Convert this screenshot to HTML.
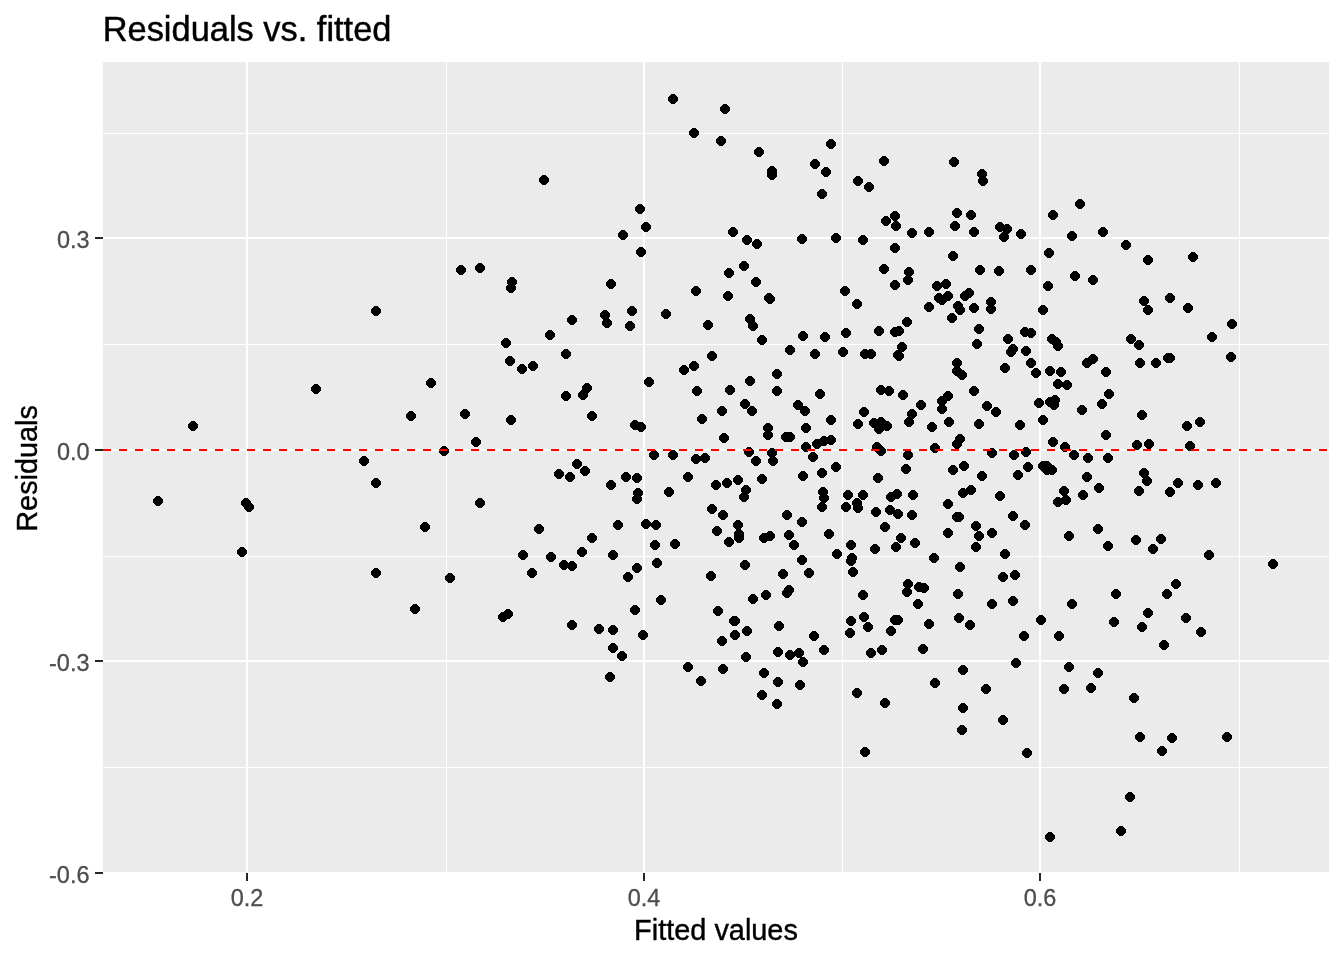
<!DOCTYPE html>
<html lang="en"><head><meta charset="utf-8"><title>Residuals vs. fitted</title>
<style>html,body{margin:0;padding:0;background:#fff;}body{width:1344px;height:960px;overflow:hidden;}svg{display:block;}text{font-family:"Liberation Sans",sans-serif;}</style></head><body>
<svg width="1344" height="960" viewBox="0 0 1344 960">
<rect x="0" y="0" width="1344" height="960" fill="#ffffff"/>
<rect x="103" y="62" width="1226" height="810" fill="#EBEBEB"/>
<g stroke="#ffffff" stroke-width="1" shape-rendering="crispEdges">
<line x1="446.5" x2="446.5" y1="62" y2="872"/>
<line x1="842.5" x2="842.5" y1="62" y2="872"/>
<line x1="1239.5" x2="1239.5" y1="62" y2="872"/>
<line x1="103" x2="1329" y1="133.5" y2="133.5"/>
<line x1="103" x2="1329" y1="344.5" y2="344.5"/>
<line x1="103" x2="1329" y1="556.5" y2="556.5"/>
<line x1="103" x2="1329" y1="767.5" y2="767.5"/>
</g>
<g stroke="#ffffff" stroke-width="2" shape-rendering="crispEdges">
<line x1="247" x2="247" y1="62" y2="872"/>
<line x1="644" x2="644" y1="62" y2="872"/>
<line x1="1040" x2="1040" y1="62" y2="872"/>
<line x1="103" x2="1329" y1="238" y2="238"/>
<line x1="103" x2="1329" y1="450" y2="450"/>
<line x1="103" x2="1329" y1="661" y2="661"/>
</g>
<g fill="#000000" shape-rendering="crispEdges">
<circle cx="376" cy="311" r="4.9"/>
<circle cx="316" cy="389" r="4.9"/>
<circle cx="431" cy="383" r="4.9"/>
<circle cx="411" cy="416" r="4.9"/>
<circle cx="193" cy="426" r="4.9"/>
<circle cx="364" cy="461" r="4.9"/>
<circle cx="376" cy="483" r="4.9"/>
<circle cx="158" cy="501" r="4.9"/>
<circle cx="246" cy="503" r="4.9"/>
<circle cx="249" cy="507" r="4.9"/>
<circle cx="425" cy="527" r="4.9"/>
<circle cx="242" cy="552" r="4.9"/>
<circle cx="376" cy="573" r="4.9"/>
<circle cx="415" cy="609" r="4.9"/>
<circle cx="673" cy="99" r="4.9"/>
<circle cx="725" cy="109" r="4.9"/>
<circle cx="694" cy="133" r="4.9"/>
<circle cx="721" cy="141" r="4.9"/>
<circle cx="759" cy="152" r="4.9"/>
<circle cx="544" cy="180" r="4.9"/>
<circle cx="640" cy="209" r="4.9"/>
<circle cx="646" cy="227" r="4.9"/>
<circle cx="623" cy="235" r="4.9"/>
<circle cx="733" cy="232" r="4.9"/>
<circle cx="747" cy="240" r="4.9"/>
<circle cx="757" cy="244" r="4.9"/>
<circle cx="641" cy="252" r="4.9"/>
<circle cx="461" cy="270" r="4.9"/>
<circle cx="480" cy="268" r="4.9"/>
<circle cx="512" cy="282" r="4.9"/>
<circle cx="511" cy="288" r="4.9"/>
<circle cx="611" cy="284" r="4.9"/>
<circle cx="744" cy="266" r="4.9"/>
<circle cx="729" cy="273" r="4.9"/>
<circle cx="756" cy="282" r="4.9"/>
<circle cx="696" cy="291" r="4.9"/>
<circle cx="728" cy="296" r="4.9"/>
<circle cx="769" cy="298" r="4.9"/>
<circle cx="632" cy="311" r="4.9"/>
<circle cx="605" cy="315" r="4.9"/>
<circle cx="607" cy="323" r="4.9"/>
<circle cx="630" cy="326" r="4.9"/>
<circle cx="666" cy="314" r="4.9"/>
<circle cx="572" cy="320" r="4.9"/>
<circle cx="708" cy="325" r="4.9"/>
<circle cx="750" cy="319" r="4.9"/>
<circle cx="753" cy="326" r="4.9"/>
<circle cx="762" cy="340" r="4.9"/>
<circle cx="550" cy="335" r="4.9"/>
<circle cx="506" cy="343" r="4.9"/>
<circle cx="566" cy="354" r="4.9"/>
<circle cx="712" cy="356" r="4.9"/>
<circle cx="510" cy="361" r="4.9"/>
<circle cx="522" cy="369" r="4.9"/>
<circle cx="533" cy="366" r="4.9"/>
<circle cx="694" cy="366" r="4.9"/>
<circle cx="684" cy="370" r="4.9"/>
<circle cx="649" cy="382" r="4.9"/>
<circle cx="750" cy="381" r="4.9"/>
<circle cx="587" cy="388" r="4.9"/>
<circle cx="583" cy="395" r="4.9"/>
<circle cx="566" cy="396" r="4.9"/>
<circle cx="697" cy="391" r="4.9"/>
<circle cx="730" cy="390" r="4.9"/>
<circle cx="745" cy="404" r="4.9"/>
<circle cx="752" cy="411" r="4.9"/>
<circle cx="722" cy="411" r="4.9"/>
<circle cx="465" cy="414" r="4.9"/>
<circle cx="511" cy="420" r="4.9"/>
<circle cx="592" cy="416" r="4.9"/>
<circle cx="702" cy="419" r="4.9"/>
<circle cx="635" cy="425" r="4.9"/>
<circle cx="641" cy="427" r="4.9"/>
<circle cx="768" cy="428" r="4.9"/>
<circle cx="768" cy="435" r="4.9"/>
<circle cx="724" cy="438" r="4.9"/>
<circle cx="476" cy="442" r="4.9"/>
<circle cx="444" cy="451" r="4.9"/>
<circle cx="654" cy="455" r="4.9"/>
<circle cx="673" cy="455" r="4.9"/>
<circle cx="696" cy="459" r="4.9"/>
<circle cx="705" cy="458" r="4.9"/>
<circle cx="749" cy="452" r="4.9"/>
<circle cx="756" cy="461" r="4.9"/>
<circle cx="577" cy="464" r="4.9"/>
<circle cx="585" cy="471" r="4.9"/>
<circle cx="559" cy="474" r="4.9"/>
<circle cx="570" cy="477" r="4.9"/>
<circle cx="626" cy="477" r="4.9"/>
<circle cx="637" cy="478" r="4.9"/>
<circle cx="611" cy="485" r="4.9"/>
<circle cx="688" cy="477" r="4.9"/>
<circle cx="762" cy="479" r="4.9"/>
<circle cx="738" cy="480" r="4.9"/>
<circle cx="727" cy="483" r="4.9"/>
<circle cx="716" cy="485" r="4.9"/>
<circle cx="746" cy="490" r="4.9"/>
<circle cx="744" cy="497" r="4.9"/>
<circle cx="669" cy="492" r="4.9"/>
<circle cx="638" cy="493" r="4.9"/>
<circle cx="637" cy="499" r="4.9"/>
<circle cx="480" cy="503" r="4.9"/>
<circle cx="712" cy="509" r="4.9"/>
<circle cx="723" cy="515" r="4.9"/>
<circle cx="738" cy="525" r="4.9"/>
<circle cx="717" cy="531" r="4.9"/>
<circle cx="646" cy="524" r="4.9"/>
<circle cx="656" cy="525" r="4.9"/>
<circle cx="618" cy="525" r="4.9"/>
<circle cx="539" cy="529" r="4.9"/>
<circle cx="592" cy="538" r="4.9"/>
<circle cx="655" cy="545" r="4.9"/>
<circle cx="675" cy="544" r="4.9"/>
<circle cx="729" cy="542" r="4.9"/>
<circle cx="739" cy="534" r="4.9"/>
<circle cx="764" cy="538" r="4.9"/>
<circle cx="523" cy="555" r="4.9"/>
<circle cx="551" cy="557" r="4.9"/>
<circle cx="582" cy="552" r="4.9"/>
<circle cx="613" cy="555" r="4.9"/>
<circle cx="564" cy="565" r="4.9"/>
<circle cx="572" cy="566" r="4.9"/>
<circle cx="532" cy="573" r="4.9"/>
<circle cx="450" cy="578" r="4.9"/>
<circle cx="657" cy="563" r="4.9"/>
<circle cx="637" cy="568" r="4.9"/>
<circle cx="628" cy="577" r="4.9"/>
<circle cx="745" cy="565" r="4.9"/>
<circle cx="711" cy="576" r="4.9"/>
<circle cx="766" cy="595" r="4.9"/>
<circle cx="753" cy="599" r="4.9"/>
<circle cx="661" cy="600" r="4.9"/>
<circle cx="635" cy="610" r="4.9"/>
<circle cx="508" cy="614" r="4.9"/>
<circle cx="503" cy="617" r="4.9"/>
<circle cx="718" cy="611" r="4.9"/>
<circle cx="734" cy="621" r="4.9"/>
<circle cx="572" cy="625" r="4.9"/>
<circle cx="599" cy="629" r="4.9"/>
<circle cx="613" cy="630" r="4.9"/>
<circle cx="643" cy="635" r="4.9"/>
<circle cx="747" cy="631" r="4.9"/>
<circle cx="735" cy="635" r="4.9"/>
<circle cx="722" cy="641" r="4.9"/>
<circle cx="613" cy="648" r="4.9"/>
<circle cx="622" cy="656" r="4.9"/>
<circle cx="746" cy="657" r="4.9"/>
<circle cx="688" cy="667" r="4.9"/>
<circle cx="723" cy="669" r="4.9"/>
<circle cx="764" cy="673" r="4.9"/>
<circle cx="701" cy="681" r="4.9"/>
<circle cx="610" cy="677" r="4.9"/>
<circle cx="762" cy="695" r="4.9"/>
<circle cx="831" cy="144" r="4.9"/>
<circle cx="815" cy="164" r="4.9"/>
<circle cx="826" cy="172" r="4.9"/>
<circle cx="772" cy="171" r="4.9"/>
<circle cx="772" cy="175" r="4.9"/>
<circle cx="822" cy="194" r="4.9"/>
<circle cx="884" cy="161" r="4.9"/>
<circle cx="858" cy="181" r="4.9"/>
<circle cx="869" cy="187" r="4.9"/>
<circle cx="954" cy="162" r="4.9"/>
<circle cx="982" cy="174" r="4.9"/>
<circle cx="983" cy="181" r="4.9"/>
<circle cx="895" cy="216" r="4.9"/>
<circle cx="957" cy="213" r="4.9"/>
<circle cx="971" cy="215" r="4.9"/>
<circle cx="1080" cy="204" r="4.9"/>
<circle cx="1053" cy="215" r="4.9"/>
<circle cx="886" cy="221" r="4.9"/>
<circle cx="896" cy="226" r="4.9"/>
<circle cx="955" cy="226" r="4.9"/>
<circle cx="974" cy="232" r="4.9"/>
<circle cx="912" cy="233" r="4.9"/>
<circle cx="929" cy="232" r="4.9"/>
<circle cx="802" cy="239" r="4.9"/>
<circle cx="836" cy="238" r="4.9"/>
<circle cx="863" cy="240" r="4.9"/>
<circle cx="895" cy="248" r="4.9"/>
<circle cx="953" cy="256" r="4.9"/>
<circle cx="884" cy="269" r="4.9"/>
<circle cx="980" cy="270" r="4.9"/>
<circle cx="909" cy="272" r="4.9"/>
<circle cx="908" cy="280" r="4.9"/>
<circle cx="895" cy="285" r="4.9"/>
<circle cx="937" cy="286" r="4.9"/>
<circle cx="946" cy="284" r="4.9"/>
<circle cx="845" cy="291" r="4.9"/>
<circle cx="857" cy="304" r="4.9"/>
<circle cx="939" cy="298" r="4.9"/>
<circle cx="942" cy="300" r="4.9"/>
<circle cx="948" cy="296" r="4.9"/>
<circle cx="965" cy="296" r="4.9"/>
<circle cx="969" cy="293" r="4.9"/>
<circle cx="929" cy="307" r="4.9"/>
<circle cx="958" cy="306" r="4.9"/>
<circle cx="960" cy="310" r="4.9"/>
<circle cx="974" cy="308" r="4.9"/>
<circle cx="952" cy="318" r="4.9"/>
<circle cx="907" cy="322" r="4.9"/>
<circle cx="979" cy="329" r="4.9"/>
<circle cx="879" cy="331" r="4.9"/>
<circle cx="895" cy="332" r="4.9"/>
<circle cx="899" cy="331" r="4.9"/>
<circle cx="846" cy="333" r="4.9"/>
<circle cx="803" cy="336" r="4.9"/>
<circle cx="825" cy="337" r="4.9"/>
<circle cx="977" cy="344" r="4.9"/>
<circle cx="790" cy="350" r="4.9"/>
<circle cx="815" cy="354" r="4.9"/>
<circle cx="843" cy="352" r="4.9"/>
<circle cx="865" cy="354" r="4.9"/>
<circle cx="871" cy="354" r="4.9"/>
<circle cx="902" cy="347" r="4.9"/>
<circle cx="898" cy="355" r="4.9"/>
<circle cx="957" cy="363" r="4.9"/>
<circle cx="1000" cy="227" r="4.9"/>
<circle cx="1007" cy="229" r="4.9"/>
<circle cx="1004" cy="237" r="4.9"/>
<circle cx="1021" cy="234" r="4.9"/>
<circle cx="1072" cy="236" r="4.9"/>
<circle cx="1103" cy="232" r="4.9"/>
<circle cx="1126" cy="245" r="4.9"/>
<circle cx="1049" cy="253" r="4.9"/>
<circle cx="1148" cy="260" r="4.9"/>
<circle cx="1193" cy="257" r="4.9"/>
<circle cx="999" cy="271" r="4.9"/>
<circle cx="1031" cy="270" r="4.9"/>
<circle cx="1075" cy="276" r="4.9"/>
<circle cx="1093" cy="280" r="4.9"/>
<circle cx="1048" cy="286" r="4.9"/>
<circle cx="991" cy="302" r="4.9"/>
<circle cx="991" cy="309" r="4.9"/>
<circle cx="1043" cy="310" r="4.9"/>
<circle cx="1144" cy="301" r="4.9"/>
<circle cx="1148" cy="310" r="4.9"/>
<circle cx="1170" cy="298" r="4.9"/>
<circle cx="1188" cy="308" r="4.9"/>
<circle cx="1025" cy="332" r="4.9"/>
<circle cx="1031" cy="333" r="4.9"/>
<circle cx="1008" cy="339" r="4.9"/>
<circle cx="1052" cy="339" r="4.9"/>
<circle cx="1056" cy="342" r="4.9"/>
<circle cx="1058" cy="346" r="4.9"/>
<circle cx="1131" cy="339" r="4.9"/>
<circle cx="1139" cy="345" r="4.9"/>
<circle cx="1013" cy="349" r="4.9"/>
<circle cx="1011" cy="352" r="4.9"/>
<circle cx="1026" cy="351" r="4.9"/>
<circle cx="1031" cy="363" r="4.9"/>
<circle cx="1005" cy="368" r="4.9"/>
<circle cx="1093" cy="359" r="4.9"/>
<circle cx="1087" cy="363" r="4.9"/>
<circle cx="1168" cy="358" r="4.9"/>
<circle cx="1170" cy="358" r="4.9"/>
<circle cx="1140" cy="363" r="4.9"/>
<circle cx="1156" cy="363" r="4.9"/>
<circle cx="1232" cy="324" r="4.9"/>
<circle cx="1212" cy="337" r="4.9"/>
<circle cx="1231" cy="357" r="4.9"/>
<circle cx="957" cy="371" r="4.9"/>
<circle cx="962" cy="375" r="4.9"/>
<circle cx="777" cy="374" r="4.9"/>
<circle cx="777" cy="391" r="4.9"/>
<circle cx="820" cy="394" r="4.9"/>
<circle cx="798" cy="405" r="4.9"/>
<circle cx="805" cy="411" r="4.9"/>
<circle cx="831" cy="420" r="4.9"/>
<circle cx="806" cy="428" r="4.9"/>
<circle cx="786" cy="437" r="4.9"/>
<circle cx="790" cy="437" r="4.9"/>
<circle cx="806" cy="447" r="4.9"/>
<circle cx="817" cy="444" r="4.9"/>
<circle cx="824" cy="441" r="4.9"/>
<circle cx="831" cy="440" r="4.9"/>
<circle cx="772" cy="453" r="4.9"/>
<circle cx="773" cy="461" r="4.9"/>
<circle cx="813" cy="457" r="4.9"/>
<circle cx="836" cy="467" r="4.9"/>
<circle cx="822" cy="473" r="4.9"/>
<circle cx="803" cy="476" r="4.9"/>
<circle cx="823" cy="492" r="4.9"/>
<circle cx="824" cy="498" r="4.9"/>
<circle cx="822" cy="507" r="4.9"/>
<circle cx="787" cy="515" r="4.9"/>
<circle cx="848" cy="495" r="4.9"/>
<circle cx="863" cy="495" r="4.9"/>
<circle cx="846" cy="507" r="4.9"/>
<circle cx="857" cy="503" r="4.9"/>
<circle cx="858" cy="508" r="4.9"/>
<circle cx="876" cy="512" r="4.9"/>
<circle cx="890" cy="510" r="4.9"/>
<circle cx="898" cy="514" r="4.9"/>
<circle cx="891" cy="497" r="4.9"/>
<circle cx="897" cy="494" r="4.9"/>
<circle cx="913" cy="495" r="4.9"/>
<circle cx="912" cy="515" r="4.9"/>
<circle cx="878" cy="478" r="4.9"/>
<circle cx="906" cy="469" r="4.9"/>
<circle cx="908" cy="455" r="4.9"/>
<circle cx="877" cy="447" r="4.9"/>
<circle cx="881" cy="451" r="4.9"/>
<circle cx="935" cy="448" r="4.9"/>
<circle cx="957" cy="444" r="4.9"/>
<circle cx="960" cy="439" r="4.9"/>
<circle cx="953" cy="470" r="4.9"/>
<circle cx="964" cy="466" r="4.9"/>
<circle cx="982" cy="476" r="4.9"/>
<circle cx="963" cy="493" r="4.9"/>
<circle cx="971" cy="490" r="4.9"/>
<circle cx="948" cy="504" r="4.9"/>
<circle cx="957" cy="517" r="4.9"/>
<circle cx="864" cy="412" r="4.9"/>
<circle cx="858" cy="424" r="4.9"/>
<circle cx="874" cy="423" r="4.9"/>
<circle cx="881" cy="422" r="4.9"/>
<circle cx="887" cy="426" r="4.9"/>
<circle cx="879" cy="429" r="4.9"/>
<circle cx="881" cy="390" r="4.9"/>
<circle cx="889" cy="391" r="4.9"/>
<circle cx="903" cy="395" r="4.9"/>
<circle cx="921" cy="405" r="4.9"/>
<circle cx="912" cy="414" r="4.9"/>
<circle cx="909" cy="422" r="4.9"/>
<circle cx="932" cy="427" r="4.9"/>
<circle cx="949" cy="422" r="4.9"/>
<circle cx="942" cy="409" r="4.9"/>
<circle cx="942" cy="401" r="4.9"/>
<circle cx="948" cy="396" r="4.9"/>
<circle cx="974" cy="391" r="4.9"/>
<circle cx="987" cy="406" r="4.9"/>
<circle cx="979" cy="424" r="4.9"/>
<circle cx="1036" cy="373" r="4.9"/>
<circle cx="1050" cy="371" r="4.9"/>
<circle cx="1061" cy="372" r="4.9"/>
<circle cx="1106" cy="372" r="4.9"/>
<circle cx="1058" cy="384" r="4.9"/>
<circle cx="1067" cy="385" r="4.9"/>
<circle cx="1109" cy="394" r="4.9"/>
<circle cx="1102" cy="404" r="4.9"/>
<circle cx="1039" cy="403" r="4.9"/>
<circle cx="1050" cy="402" r="4.9"/>
<circle cx="1055" cy="400" r="4.9"/>
<circle cx="1054" cy="405" r="4.9"/>
<circle cx="996" cy="412" r="4.9"/>
<circle cx="1082" cy="410" r="4.9"/>
<circle cx="1142" cy="415" r="4.9"/>
<circle cx="1020" cy="425" r="4.9"/>
<circle cx="1043" cy="420" r="4.9"/>
<circle cx="1187" cy="426" r="4.9"/>
<circle cx="1200" cy="422" r="4.9"/>
<circle cx="1106" cy="435" r="4.9"/>
<circle cx="1053" cy="442" r="4.9"/>
<circle cx="1065" cy="447" r="4.9"/>
<circle cx="1137" cy="445" r="4.9"/>
<circle cx="1149" cy="444" r="4.9"/>
<circle cx="1190" cy="446" r="4.9"/>
<circle cx="992" cy="453" r="4.9"/>
<circle cx="1014" cy="455" r="4.9"/>
<circle cx="1026" cy="452" r="4.9"/>
<circle cx="1074" cy="455" r="4.9"/>
<circle cx="1088" cy="458" r="4.9"/>
<circle cx="1108" cy="458" r="4.9"/>
<circle cx="1028" cy="467" r="4.9"/>
<circle cx="1043" cy="466" r="4.9"/>
<circle cx="1047" cy="466" r="4.9"/>
<circle cx="1052" cy="470" r="4.9"/>
<circle cx="1018" cy="475" r="4.9"/>
<circle cx="1087" cy="477" r="4.9"/>
<circle cx="1144" cy="473" r="4.9"/>
<circle cx="1147" cy="481" r="4.9"/>
<circle cx="1178" cy="483" r="4.9"/>
<circle cx="1198" cy="485" r="4.9"/>
<circle cx="1099" cy="488" r="4.9"/>
<circle cx="1064" cy="491" r="4.9"/>
<circle cx="1139" cy="491" r="4.9"/>
<circle cx="1170" cy="492" r="4.9"/>
<circle cx="1083" cy="495" r="4.9"/>
<circle cx="1000" cy="496" r="4.9"/>
<circle cx="1066" cy="500" r="4.9"/>
<circle cx="1058" cy="502" r="4.9"/>
<circle cx="1013" cy="516" r="4.9"/>
<circle cx="1216" cy="483" r="4.9"/>
<circle cx="802" cy="522" r="4.9"/>
<circle cx="885" cy="527" r="4.9"/>
<circle cx="770" cy="536" r="4.9"/>
<circle cx="789" cy="535" r="4.9"/>
<circle cx="829" cy="534" r="4.9"/>
<circle cx="794" cy="545" r="4.9"/>
<circle cx="948" cy="533" r="4.9"/>
<circle cx="976" cy="526" r="4.9"/>
<circle cx="979" cy="536" r="4.9"/>
<circle cx="976" cy="547" r="4.9"/>
<circle cx="901" cy="538" r="4.9"/>
<circle cx="896" cy="547" r="4.9"/>
<circle cx="915" cy="543" r="4.9"/>
<circle cx="875" cy="549" r="4.9"/>
<circle cx="851" cy="545" r="4.9"/>
<circle cx="837" cy="554" r="4.9"/>
<circle cx="802" cy="560" r="4.9"/>
<circle cx="852" cy="558" r="4.9"/>
<circle cx="851" cy="561" r="4.9"/>
<circle cx="853" cy="572" r="4.9"/>
<circle cx="934" cy="558" r="4.9"/>
<circle cx="960" cy="567" r="4.9"/>
<circle cx="783" cy="574" r="4.9"/>
<circle cx="809" cy="573" r="4.9"/>
<circle cx="908" cy="584" r="4.9"/>
<circle cx="907" cy="592" r="4.9"/>
<circle cx="919" cy="587" r="4.9"/>
<circle cx="924" cy="588" r="4.9"/>
<circle cx="787" cy="593" r="4.9"/>
<circle cx="789" cy="590" r="4.9"/>
<circle cx="863" cy="595" r="4.9"/>
<circle cx="918" cy="604" r="4.9"/>
<circle cx="958" cy="594" r="4.9"/>
<circle cx="864" cy="617" r="4.9"/>
<circle cx="851" cy="621" r="4.9"/>
<circle cx="868" cy="627" r="4.9"/>
<circle cx="850" cy="633" r="4.9"/>
<circle cx="895" cy="620" r="4.9"/>
<circle cx="898" cy="620" r="4.9"/>
<circle cx="891" cy="631" r="4.9"/>
<circle cx="929" cy="624" r="4.9"/>
<circle cx="959" cy="618" r="4.9"/>
<circle cx="970" cy="625" r="4.9"/>
<circle cx="779" cy="626" r="4.9"/>
<circle cx="814" cy="636" r="4.9"/>
<circle cx="824" cy="650" r="4.9"/>
<circle cx="778" cy="652" r="4.9"/>
<circle cx="790" cy="655" r="4.9"/>
<circle cx="799" cy="653" r="4.9"/>
<circle cx="803" cy="662" r="4.9"/>
<circle cx="882" cy="650" r="4.9"/>
<circle cx="871" cy="653" r="4.9"/>
<circle cx="923" cy="649" r="4.9"/>
<circle cx="1025" cy="525" r="4.9"/>
<circle cx="992" cy="533" r="4.9"/>
<circle cx="1069" cy="536" r="4.9"/>
<circle cx="1098" cy="529" r="4.9"/>
<circle cx="1108" cy="546" r="4.9"/>
<circle cx="1136" cy="540" r="4.9"/>
<circle cx="1161" cy="539" r="4.9"/>
<circle cx="1153" cy="549" r="4.9"/>
<circle cx="1005" cy="554" r="4.9"/>
<circle cx="1003" cy="577" r="4.9"/>
<circle cx="1015" cy="575" r="4.9"/>
<circle cx="1176" cy="584" r="4.9"/>
<circle cx="1167" cy="594" r="4.9"/>
<circle cx="1116" cy="594" r="4.9"/>
<circle cx="992" cy="604" r="4.9"/>
<circle cx="1013" cy="601" r="4.9"/>
<circle cx="1072" cy="604" r="4.9"/>
<circle cx="1041" cy="620" r="4.9"/>
<circle cx="1114" cy="622" r="4.9"/>
<circle cx="1148" cy="613" r="4.9"/>
<circle cx="1142" cy="627" r="4.9"/>
<circle cx="1186" cy="618" r="4.9"/>
<circle cx="1201" cy="632" r="4.9"/>
<circle cx="1024" cy="636" r="4.9"/>
<circle cx="1059" cy="636" r="4.9"/>
<circle cx="1164" cy="645" r="4.9"/>
<circle cx="1016" cy="663" r="4.9"/>
<circle cx="1069" cy="667" r="4.9"/>
<circle cx="1209" cy="555" r="4.9"/>
<circle cx="1273" cy="564" r="4.9"/>
<circle cx="778" cy="682" r="4.9"/>
<circle cx="800" cy="685" r="4.9"/>
<circle cx="777" cy="704" r="4.9"/>
<circle cx="857" cy="693" r="4.9"/>
<circle cx="885" cy="703" r="4.9"/>
<circle cx="865" cy="752" r="4.9"/>
<circle cx="935" cy="683" r="4.9"/>
<circle cx="963" cy="670" r="4.9"/>
<circle cx="963" cy="708" r="4.9"/>
<circle cx="962" cy="730" r="4.9"/>
<circle cx="986" cy="689" r="4.9"/>
<circle cx="1098" cy="673" r="4.9"/>
<circle cx="1064" cy="689" r="4.9"/>
<circle cx="1091" cy="688" r="4.9"/>
<circle cx="1134" cy="698" r="4.9"/>
<circle cx="1003" cy="720" r="4.9"/>
<circle cx="1027" cy="753" r="4.9"/>
<circle cx="1140" cy="737" r="4.9"/>
<circle cx="1172" cy="738" r="4.9"/>
<circle cx="1162" cy="751" r="4.9"/>
<circle cx="1130" cy="797" r="4.9"/>
<circle cx="1227" cy="737" r="4.9"/>
<circle cx="1121" cy="831" r="4.9"/>
<circle cx="1050" cy="837" r="4.9"/>
<circle cx="770" cy="299" r="4.9"/>
<circle cx="739" cy="538" r="4.9"/>
<circle cx="899" cy="356" r="4.9"/>
<circle cx="735" cy="621" r="4.9"/>
<circle cx="1047" cy="470" r="4.9"/>
<circle cx="959" cy="517" r="4.9"/>
</g>
<line x1="103" x2="1329" y1="450" y2="450" stroke="#FF0000" stroke-width="2" stroke-dasharray="8 8" shape-rendering="crispEdges"/>
<g stroke="#262626" stroke-width="2" shape-rendering="crispEdges">
<line x1="95" x2="103" y1="238" y2="238"/>
<line x1="95" x2="103" y1="450" y2="450"/>
<line x1="95" x2="103" y1="661" y2="661"/>
<line x1="95" x2="103" y1="873" y2="873"/>
<line x1="247" x2="247" y1="873" y2="881"/>
<line x1="644" x2="644" y1="873" y2="881"/>
<line x1="1040" x2="1040" y1="873" y2="881"/>
</g>
<g fill="#4D4D4D" stroke="#4D4D4D" stroke-width="0.3" font-size="23.47px">
<text x="89.5" y="248.3" text-anchor="end">0.3</text>
<text x="89.5" y="460.3" text-anchor="end">0.0</text>
<text x="89.5" y="671.3" text-anchor="end">-0.3</text>
<text x="89.5" y="883.3" text-anchor="end">-0.6</text>
<text x="247" y="906" text-anchor="middle">0.2</text>
<text x="644" y="906" text-anchor="middle">0.4</text>
<text x="1040" y="906" text-anchor="middle">0.6</text>
</g>
<text x="716" y="939.8" text-anchor="middle" font-size="28.9px" fill="#000" stroke="#000" stroke-width="0.4">Fitted values</text>
<text transform="translate(37.3,468.4) rotate(-90)" text-anchor="middle" font-size="28.85px" fill="#000" stroke="#000" stroke-width="0.4">Residuals</text>
<text x="102.7" y="40.8" font-size="34.42px" fill="#000" stroke="#000" stroke-width="0.45">Residuals vs. fitted</text>
</svg></body></html>
